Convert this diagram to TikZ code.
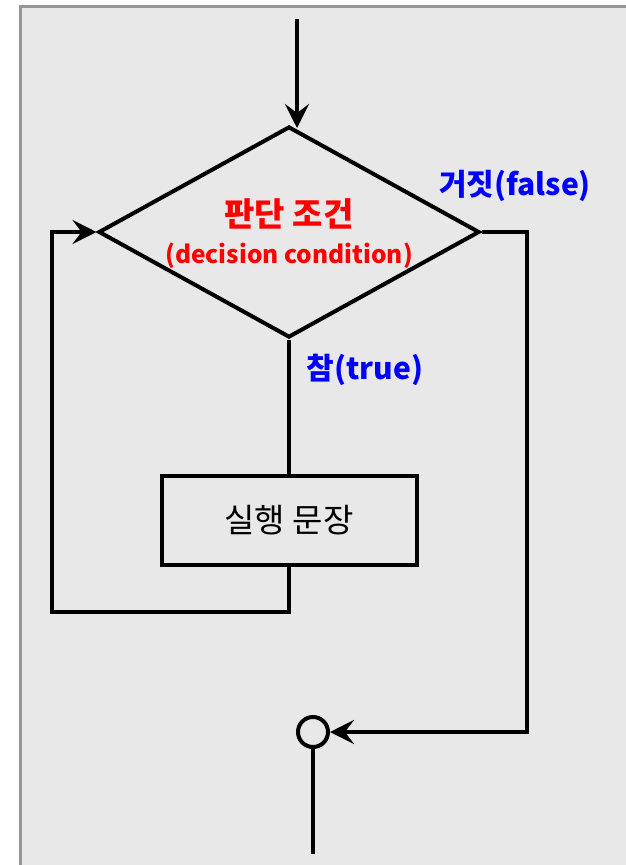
\documentclass[tikz,border=0pt]{standalone}
\usepackage{fontspec}
\setmainfont{Noto Sans CJK KR}
\usetikzlibrary{shapes.geometric,arrows.meta}

\begin{document}
\begin{tikzpicture}[x=1pt,y=-1pt,
    flow/.style={line width=4pt},
    flowarrow/.style={flow,-{Stealth[length=24pt,width=24pt,inset=9pt]}},
    decision/.style={diamond,draw,line width=4pt,inner sep=0pt,
      minimum width=381pt,minimum height=211pt},
    statement/.style={rectangle,draw,line width=4pt,
      minimum width=255pt,minimum height=89pt,font=\fontsize{33}{38}\selectfont},
    joint/.style={circle,draw,line width=4pt,minimum size=30pt,inner sep=0pt},
    condlabel/.style={align=center,text=red,font=\bfseries\fontsize{24.5}{37}\selectfont},
    branch/.style={text=blue,font=\bfseries\fontsize{30}{34}\selectfont}]
  \useasboundingbox (0,0) rectangle (626,865);
  \fill[fill={rgb,255:red,232;green,232;blue,232},draw={rgb,255:red,150;green,150;blue,150},line width=3pt]
    (20,6) rectangle (660,900);

  \node[decision] (cond) at (289,232) {};
  \node[condlabel] (condtext) at (289,233.5) {{\fontsize{33}{37}\selectfont 판단 조건}\\
    {\fontsize{24.5}{37}\selectfont (decision condition)}};
  \node[statement] (body) at (289,520) {실행 문장};
  \node[joint] (join) at (313,732) {};

  \coordinate (in) at (297,19);
  \coordinate (loopB) at (52,612);
  \coordinate (exitR) at (527,732);
  \coordinate (out) at (313,854);

  \draw[flowarrow] (in) -- (297,128);
  \draw[flow] (cond.south) -- (body.north);
  \draw[flowarrow] (body.south) |- (loopB) |- (cond.west);
  \draw[flowarrow] (cond.east) -| (exitR) -- (join.east);
  \draw[flow] (join.south) -- (out);

  \node[branch] (truelbl) at (365,370) {참(true)};
  \node[branch] (falselbl) at (515,186) {거짓(false)};
\end{tikzpicture}
\end{document}
